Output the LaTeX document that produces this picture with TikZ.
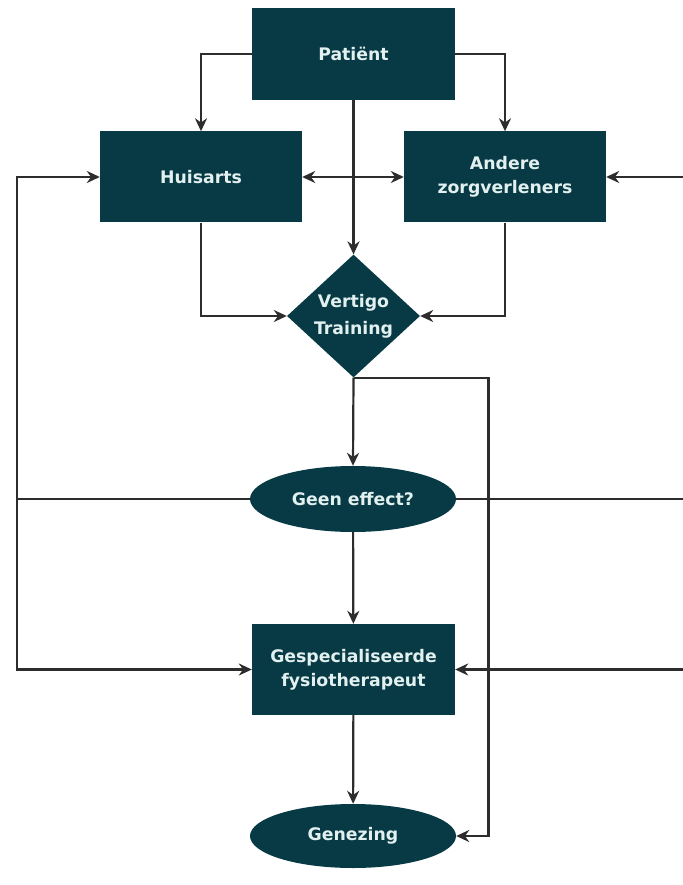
\documentclass[tikz,border=0pt]{standalone}
\usepackage{fontspec}
\setsansfont{DejaVu Sans}
\usetikzlibrary{shapes.geometric,arrows.meta,positioning}
\definecolor{flowfill}{RGB}{7,58,68}
\definecolor{flowtext}{RGB}{226,240,240}
\definecolor{flowline}{RGB}{45,45,45}

\begin{document}
\begin{tikzpicture}[
    x=1pt, y=-1pt,
    base/.style={fill=flowfill, text=flowtext, font=\sffamily\bfseries\fontsize{17.3}{24}\selectfont, align=center, inner sep=0pt},
    box/.style={base, rectangle, minimum width=203pt, minimum height=91pt},
    decision/.style={base, diamond, minimum width=133pt, minimum height=120pt, font=\sffamily\bfseries\fontsize{17.3}{27}\selectfont},
    oval/.style={base, ellipse, minimum width=206pt, minimum height=66pt},
    link/.style={line width=2.2pt, flowline},
    arrow/.style={link, -{Stealth[length=13pt,width=12pt]}}
]
\useasboundingbox (0,0) rectangle (682,885);

% Top row
\node[box, minimum height=92pt] (patient) at (353.5,54) {Patiënt};
\node[box, minimum width=202pt] (huisarts) at (201,177) {Huisarts};
\node[box, minimum width=202pt] (andere) at (505,177) {Andere\\zorgverleners};

% Middle
\node[decision] (training) at (353.5,316) {Vertigo\\Training};
\node[oval] (geen) at (353,499) {Geen effect?};

% Bottom
\node[box] (fysio) at (353.5,669.5) {Gespecialiseerde\\fysiotherapeut};
\node[oval, minimum height=64pt] (genezing) at (353,836) {Genezing};

% Rails
\coordinate (leftrail) at (17,499);
\coordinate (rightrail) at (692,499);

% Patient arrows
\draw[arrow] (patient.west) -| (huisarts.north);
\draw[arrow] (patient.east) -| (andere.north);
\draw[arrow] (patient.south) -- (training.north);
\draw[link, {Stealth[length=13pt,width=12pt]}-{Stealth[length=13pt,width=12pt]}] (huisarts.east) -- (andere.west);

% Into training
\draw[arrow] (huisarts.south) |- (training.west);
\draw[arrow] (andere.south) |- (training.east);
\draw[arrow] (training.south) -- (geen.north);
\draw[arrow] (training.south) -- ([xshift=135pt]training.south) |- (genezing.east);

% Geen effect
\draw[arrow] (geen.west) -- (leftrail) |- (huisarts.west);
\draw[arrow] (leftrail) |- (fysio.west);
\draw[link] (geen.east) -- (rightrail);
\draw[arrow] (rightrail) |- (andere.east);
\draw[arrow] (rightrail) |- (fysio.east);
\draw[arrow] (geen) -- (fysio);
\draw[arrow] (fysio) -- (genezing);

\end{tikzpicture}
\end{document}
